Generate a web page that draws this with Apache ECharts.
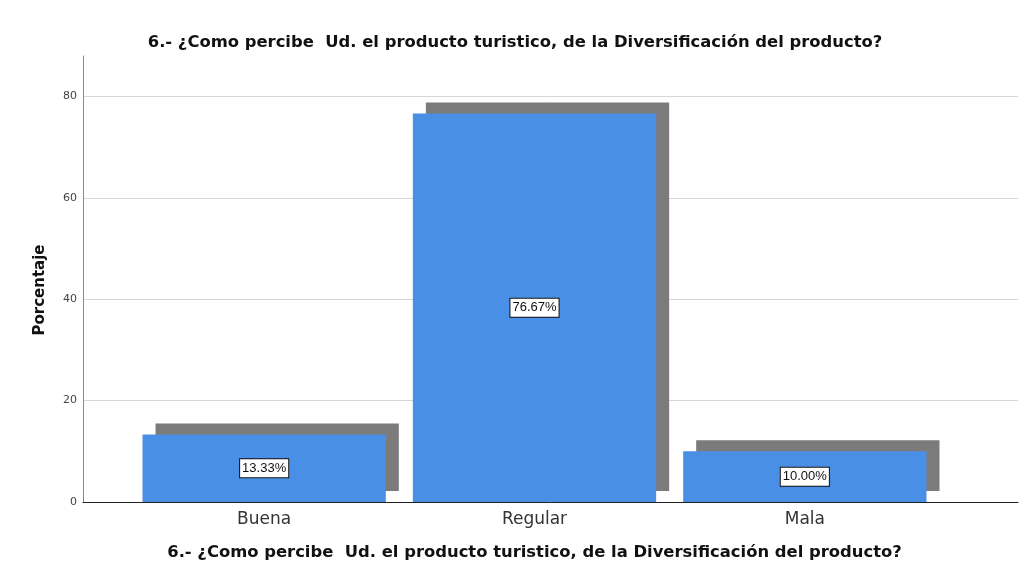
<!DOCTYPE html>
<html>
<head>
<meta charset="utf-8">
<script src="https://cdn.jsdelivr.net/npm/echarts@6/dist/echarts.min.js"></script>
<style>
  html, body { margin: 0; padding: 0; background: #ffffff; }
  #chart { width: 1030px; height: 574px; }
</style>
</head>
<body>
<div id="chart"></div>
<script>
// Survey answers: perception of the tourism product's diversification
const categories = ['Buena', 'Regular', 'Mala'];
const percentages = [13.33, 76.67, 10.00];
const yTicks = [0, 20, 40, 60, 80];
const titleText = '6.- ¿Como percibe  Ud. el producto turistico, de la Diversificación del producto?';
const yName = 'Porcentaje';

const FONT = '"DejaVu Sans", Verdana, sans-serif';
const FONT_NARROW = '"Liberation Sans", Arial, sans-serif';
const chart = echarts.init(document.getElementById('chart'));

chart.setOption({
  backgroundColor: '#ffffff',
  animation: false,
  title: {
    text: titleText,
    left: 'center',
    top: 30,
    textStyle: { fontFamily: FONT, fontSize: 16.4, fontWeight: 'bold', color: '#111' }
  },
  // vertical axis title, set a little below the plot's middle
  graphic: [{
    type: 'text',
    x: 40, y: 290,
    rotation: Math.PI / 2,
    style: {
      text: yName,
      fontFamily: FONT, fontSize: 15, fontWeight: 'bold', fill: '#111',
      align: 'center', verticalAlign: 'middle'
    }
  }],
  grid: [
    // frame with the axis lines and horizontal guides
    { left: 83, right: 12, top: 56, bottom: 72 },
    // inner band where the categories sit
    { left: 129, right: 90, top: 56, bottom: 72 }
  ],
  xAxis: [
    {
      gridIndex: 0, type: 'value', min: 0, max: 1,
      axisLine: { show: true, lineStyle: { color: '#222', width: 1 } },
      axisTick: { show: false }, axisLabel: { show: false }, splitLine: { show: false }
    },
    {
      gridIndex: 1, type: 'category', data: categories,
      axisLine: { show: false }, axisTick: { show: false },
      axisLabel: { fontFamily: FONT, fontSize: 17, color: '#333', margin: 9 },
      name: titleText, nameLocation: 'middle', nameGap: 43,
      nameTextStyle: { fontFamily: FONT, fontSize: 16.4, fontWeight: 'bold', color: '#111' }
    }
  ],
  yAxis: [
    {
      gridIndex: 0, type: 'value', min: 0, max: 88, interval: 20,
      axisLine: { show: true, lineStyle: { color: '#888', width: 1 } },
      axisTick: { show: false },
      axisLabel: {
        fontFamily: FONT, fontSize: 11, color: '#444', margin: 6,
        formatter: v => (yTicks.indexOf(v) >= 0 ? String(v) : '')
      },
      splitLine: { show: true, showMaxLine: false, lineStyle: { color: '#d6d6d6', width: 1 } }
    },
    {
      gridIndex: 1, type: 'value', min: 0, max: 88, show: false
    }
  ],
  series: [
    {
      type: 'bar',
      xAxisIndex: 1, yAxisIndex: 1,
      data: percentages,
      barCategoryGap: '10%',
      itemStyle: {
        color: '#4a8fe6',
        shadowColor: '#7b7b7b',
        shadowOffsetX: 13,
        shadowOffsetY: -11,
        shadowBlur: 0
      },
      label: {
        show: true,
        position: 'inside',
        formatter: p => p.value.toFixed(2) + '%',
        fontFamily: FONT_NARROW, fontSize: 13, color: '#111',
        backgroundColor: '#ffffff',
        borderColor: '#111', borderWidth: 1,
        padding: [3, 2, 2, 2]
      }
    }
  ]
});
</script>
</body>
</html>
